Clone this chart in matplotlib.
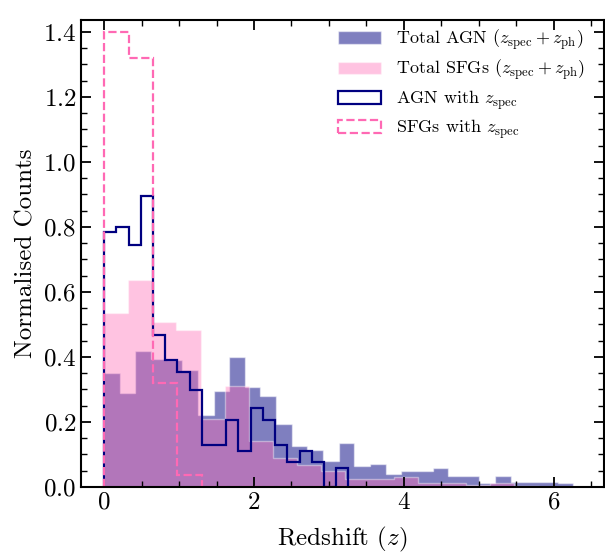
import matplotlib
matplotlib.use("Agg")
import matplotlib.pyplot as plt
from matplotlib.ticker import MultipleLocator
import numpy as np

plt.rcParams['font.family'] = 'serif'
plt.rcParams['font.serif'] = ['cmr10']
plt.rcParams['mathtext.fontset'] = 'cm'
plt.rcParams['axes.formatter.use_mathtext'] = True

# Total AGN (z_spec + z_ph): 30 bins over 0 - 6.26
agn_tot_range = (0.0, 6.26)
agn_tot = [0.35, 0.29, 0.418, 0.393, 0.39, 0.36, 0.22, 0.295, 0.40, 0.307,
           0.28, 0.193, 0.127, 0.114, 0.08, 0.134, 0.066, 0.07, 0.04, 0.049,
           0.049, 0.059, 0.035, 0.035, 0.011, 0.035, 0.016, 0.016, 0.016, 0.011]

# Total SFGs (z_spec + z_ph): 20 bins over 0 - 6.44
sfg_tot_range = (0.0, 6.44)
sfg_tot = [0.534, 0.637, 0.509, 0.483, 0.21, 0.31, 0.14, 0.088, 0.068, 0.048,
           0.025, 0.025, 0.031, 0.013, 0.012, 0.006, 0.012, 0.004, 0.0, 0.0]

# AGN with z_spec: 20 bins over 0 - 3.26
agn_spec_range = (0.0, 3.26)
agn_spec = [0.784, 0.80, 0.746, 0.894, 0.467, 0.39, 0.354, 0.298, 0.13, 0.13,
            0.207, 0.111, 0.243, 0.207, 0.13, 0.077, 0.11, 0.077, 0.0, 0.058]

# SFGs with z_spec: 10 bins over 0 - 3.26
sfg_spec_range = (0.0, 3.26)
sfg_spec = [1.399, 1.319, 0.319, 0.038, 0.0, 0.0, 0.0, 0.0, 0.0, 0.0]


def edges_of(rng, vals):
    return np.linspace(rng[0], rng[1], len(vals) + 1)


def centres(edges):
    return 0.5 * (edges[:-1] + edges[1:])


fig = plt.figure(figsize=(6.05, 5.54), dpi=100)
ax = fig.add_axes([0.134, 0.121, 0.864, 0.843])

e = edges_of(agn_tot_range, agn_tot)
ax.hist(centres(e), bins=e, weights=agn_tot, histtype='stepfilled',
        color='navy', alpha=0.5, ec='white', lw=1,
        label=r'Total AGN ($z_{\rm spec}+z_{\rm ph}$)')
e = edges_of(sfg_tot_range, sfg_tot)
ax.hist(centres(e), bins=e, weights=sfg_tot, histtype='stepfilled',
        color='hotpink', alpha=0.4, ec='white', lw=1,
        label=r'Total SFGs ($z_{\rm spec}+z_{\rm ph}$)')
e = edges_of(agn_spec_range, agn_spec)
ax.hist(centres(e), bins=e, weights=agn_spec, histtype='step',
        color='navy', lw=1.6, label=r'AGN with $z_{\rm spec}$')
e = edges_of(sfg_spec_range, sfg_spec)
ax.hist(centres(e), bins=e, weights=sfg_spec, histtype='step',
        color='hotpink', lw=1.6, ls='--', label=r'SFGs with $z_{\rm spec}$')

ax.set_xlim(-0.307, 6.667)
ax.set_ylim(0, 1.437)
ax.xaxis.set_major_locator(MultipleLocator(2))
ax.xaxis.set_minor_locator(MultipleLocator(0.5))
ax.yaxis.set_major_locator(MultipleLocator(0.2))
ax.yaxis.set_minor_locator(MultipleLocator(0.05))
ax.tick_params(which='both', direction='in', top=True, right=True, labelsize=18)
ax.tick_params(which='major', length=7, width=1.3)
ax.tick_params(which='minor', length=4, width=1)
for s in ax.spines.values():
    s.set_linewidth(1.5)

ax.set_xlabel(r'Redshift ($z$)', fontsize=18, labelpad=8)
ax.set_ylabel('Normalised Counts', fontsize=18)
ax.legend(loc='upper right', bbox_to_anchor=(0.995, 1.02), frameon=False,
          fontsize=13, handlelength=2.4, handletextpad=0.8, labelspacing=0.3)

fig.savefig('out.png', dpi=100)
